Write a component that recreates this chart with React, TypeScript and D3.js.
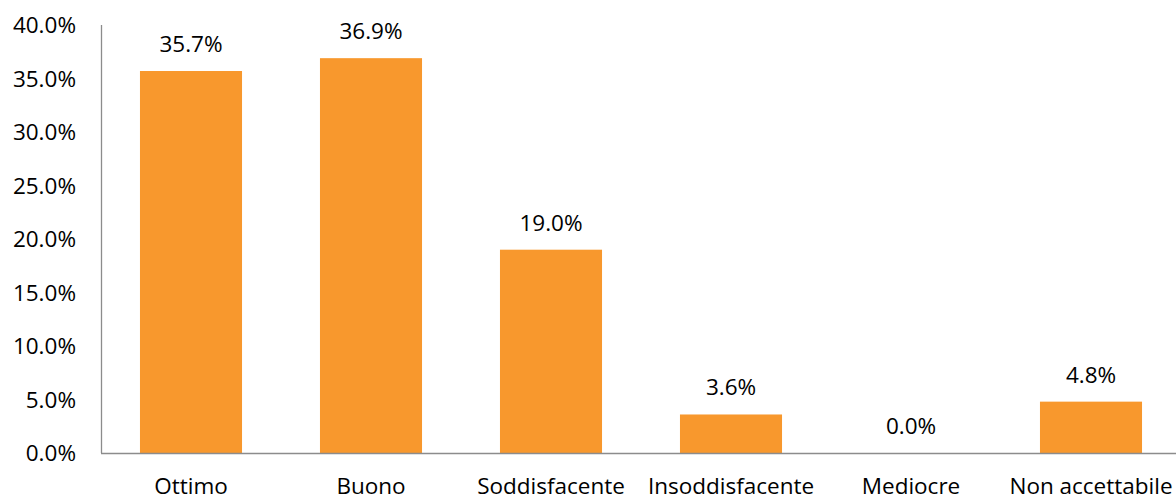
import React from "react";
import * as d3 from "d3";

const categories = ["Ottimo", "Buono", "Soddisfacente", "Insoddisfacente", "Mediocre", "Non accettabile"];
const values = [35.7, 36.9, 19.0, 3.6, 0.0, 4.8];
const yTicks = [0, 5, 10, 15, 20, 25, 30, 35, 40];

const W = 1176;
const H = 498;
const FONT = "'Open Sans', sans-serif";
const FS = 22.5;

export default function App() {
  const x = d3.scaleBand<string>().domain(categories).range([101, 1181]).paddingInner(0.433).paddingOuter(0.2165);
  const y = d3.scaleLinear().domain([0, 40]).range([453, 25]);
  const fmt = (v: number) => v.toFixed(1) + "%";
  return (
    <svg width={W} height={H} style={{ position: "absolute", left: 0, top: 0 }} fontFamily={FONT}>
      <rect width={W} height={H} fill="#fff" />
      {categories.map((c, i) => (
        <rect key={c} x={x(c)} y={y(values[i])} width={x.bandwidth()} height={y(0) - y(values[i])} fill="#F8982D" />
      ))}
      <line x1={101.5} x2={101.5} y1={25} y2={453} stroke="#8c8c8c" strokeWidth={1.3} />
      <line x1={101} x2={W} y1={453.5} y2={453.5} stroke="#8c8c8c" strokeWidth={1.3} />
      {yTicks.map((t) => (
        <text key={t} x={76} y={y(t)} dy="0.36em" textAnchor="end" fontSize={FS} fill="#000">
          {fmt(t)}
        </text>
      ))}
      {categories.map((c, i) => (
        <text key={c} x={(x(c) as number) + x.bandwidth() / 2} y={y(values[i]) - 19} textAnchor="middle" fontSize={FS} fill="#000">
          {fmt(values[i])}
        </text>
      ))}
      {categories.map((c) => (
        <text key={c} x={(x(c) as number) + x.bandwidth() / 2} y={494} textAnchor="middle" fontSize={FS} fill="#000">
          {c}
        </text>
      ))}
    </svg>
  );
}
